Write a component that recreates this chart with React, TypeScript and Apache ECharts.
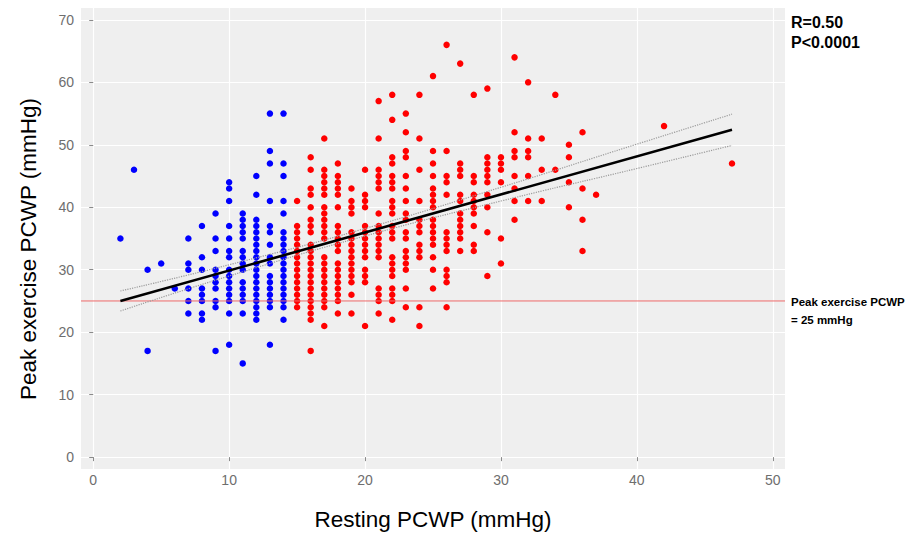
import React, { useEffect, useRef } from "react";
import * as echarts from "echarts";

// Axis ticks and ranges
const xTicks = [0, 10, 20, 30, 40, 50];
const yTicks = [0, 10, 20, 30, 40, 50, 60, 70];
const xRange = [-0.9, 50.9];
const yRange = [-1.9, 71.9];

// Blue group (resting PCWP <= 14): resting value and the peak exercise values observed at it
const blueRest = [2, 3, 4, 5, 6, 7, 8, 9, 10, 11, 12, 13, 14];
const bluePeak: number[][] = [
  [35],
  [46],
  [30, 17],
  [31],
  [27],
  [35, 31, 30, 27, 25, 23],
  [37, 32, 30, 27, 26, 25, 23, 22],
  [39, 35, 33, 30, 29, 28, 27, 25, 24, 17],
  [44, 43, 41, 37, 35, 33, 32, 30, 29, 28, 27, 26, 25, 23, 18],
  [39, 38, 37, 36, 35, 33, 32, 31, 30, 28, 27, 26, 25, 23, 15],
  [45, 42, 38, 37, 36, 35, 34, 33, 32, 31, 30, 29, 28, 27, 26, 25, 24, 23, 22],
  [55, 49, 47, 41, 37, 36, 34, 32, 31, 29, 28, 27, 26, 25, 24, 18],
  [55, 47, 45, 41, 39, 36, 35, 34, 33, 32, 31, 30, 29, 28, 27, 26, 25, 24, 22],
];

// Red group (resting PCWP >= 15)
const redRest = [15, 16, 17, 18, 19, 20, 21, 22, 23, 24, 25, 26, 27, 28, 29, 30, 31, 32, 33, 34, 35, 36, 37, 42, 47];
const redPeak: number[][] = [
  [41, 37, 36, 35, 34, 33, 32, 31, 30, 29, 28, 27, 26, 25, 24],
  [48, 46, 43, 42, 40, 38, 37, 36, 34, 33, 32, 31, 30, 29, 28, 27, 26, 25, 24, 23, 22, 17],
  [51, 46, 45, 44, 43, 42, 40, 39, 38, 37, 36, 35, 32, 31, 30, 29, 28, 27, 26, 25, 24, 21],
  [47, 45, 44, 43, 42, 40, 37, 36, 35, 34, 33, 31, 30, 29, 28, 27, 26, 25, 23],
  [43, 41, 40, 39, 36, 35, 34, 33, 32, 31, 30, 29, 28, 26, 23],
  [46, 42, 41, 40, 37, 36, 35, 34, 33, 32, 30, 29, 28, 21],
  [57, 51, 46, 45, 44, 43, 39, 37, 36, 35, 34, 33, 32, 27, 26, 25, 23],
  [58, 54, 48, 47, 45, 44, 43, 41, 40, 39, 37, 36, 35, 32, 31, 30, 29, 27, 26, 25, 22],
  [55, 52, 49, 48, 45, 43, 41, 39, 38, 36, 35, 33, 32, 31, 30, 27, 24],
  [58, 51, 46, 41, 38, 37, 36, 34, 33, 32, 24, 21],
  [61, 49, 47, 45, 43, 42, 41, 40, 38, 37, 36, 35, 34, 32, 30, 27],
  [66, 49, 45, 44, 42, 36, 35, 34, 33, 30, 29, 28, 24],
  [63, 47, 46, 45, 42, 41, 39, 38, 37, 36, 35, 33],
  [58, 45, 44, 42, 41, 40, 39, 37, 34, 33],
  [59, 48, 47, 46, 45, 44, 42, 40, 36, 29],
  [48, 47, 46, 44, 35, 31],
  [64, 52, 49, 48, 45, 43, 41, 38],
  [60, 51, 49, 48, 45, 41],
  [51, 46, 41],
  [58, 46],
  [50, 48, 44, 40],
  [52, 43, 38, 33],
  [42],
  [53],
  [47],
];

// Regression line and its confidence band
const fitX = [2, 47];
const fitY = [25.0, 52.4];
const ciX = [2, 10, 20, 30, 40, 47];
const ciUpper = [26.6, 30.8, 36.6, 43.2, 50.1, 54.9];
const ciLower = [23.4, 29.0, 35.4, 41.0, 46.2, 49.9];

// Reference line: peak exercise PCWP = 25 mmHg
const threshold = 25;

const FONT = "'Liberation Sans', Arial, Helvetica, sans-serif";

function toPoints(xs: number[], ys: number[][]): number[][] {
  const out: number[][] = [];
  xs.forEach((x, i) => ys[i].forEach((y) => out.push([x, y])));
  return out;
}

export default function App() {
  const ref = useRef<HTMLDivElement>(null);

  useEffect(() => {
    if (!ref.current) return;
    const chart = echarts.init(ref.current, null, { renderer: "svg" });

    const axisLabelStyle = { color: "#6e6e6e", fontSize: 14, fontFamily: FONT };

    chart.setOption({
      animation: false,
      grid: {
        left: 81,
        right: 130,
        top: 8,
        bottom: 64,
        show: true,
        backgroundColor: "#efefef",
        borderWidth: 0,
      },
      xAxis: {
        type: "value",
        min: xRange[0],
        max: xRange[1],
        axisLine: { show: false },
        axisTick: { show: true, length: 4, customValues: xTicks, lineStyle: { color: "#8a8a8a" } },
        axisLabel: { ...axisLabelStyle, margin: 4, customValues: xTicks },
        splitLine: { show: true, lineStyle: { color: "#ffffff", width: 1.2 } },
      },
      yAxis: {
        type: "value",
        min: yRange[0],
        max: yRange[1],
        axisLine: { show: false },
        axisTick: { show: true, length: 4, customValues: yTicks, lineStyle: { color: "#8a8a8a" } },
        axisLabel: { ...axisLabelStyle, margin: 7, customValues: yTicks },
        splitLine: { show: true, lineStyle: { color: "#ffffff", width: 1.2 } },
      },
      series: [
        {
          type: "scatter",
          data: toPoints(blueRest, bluePeak),
          symbolSize: 6.5,
          itemStyle: { color: "#0000ff", opacity: 1 },
          z: 2,
        },
        {
          type: "scatter",
          data: toPoints(redRest, redPeak),
          symbolSize: 6.5,
          itemStyle: { color: "#ff0000", opacity: 1 },
          z: 2,
        },
        {
          type: "line",
          data: xRange.map((x) => [x, threshold]),
          showSymbol: false,
          silent: true,
          itemStyle: { color: "#ee6a6a" },
          lineStyle: { color: "#ee6a6a", width: 1 },
          z: 3,
        },
        {
          type: "line",
          data: ciX.map((x, i) => [x, ciUpper[i]]),
          showSymbol: false,
          smooth: true,
          itemStyle: { color: "#9a9a9a" },
          lineStyle: { color: "#9a9a9a", width: 1.2, type: "dotted" },
          z: 4,
        },
        {
          type: "line",
          data: ciX.map((x, i) => [x, ciLower[i]]),
          showSymbol: false,
          smooth: true,
          itemStyle: { color: "#9a9a9a" },
          lineStyle: { color: "#9a9a9a", width: 1.2, type: "dotted" },
          z: 4,
        },
        {
          type: "line",
          data: fitX.map((x, i) => [x, fitY[i]]),
          showSymbol: false,
          itemStyle: { color: "#000000" },
          lineStyle: { color: "#000000", width: 2.6 },
          z: 5,
        },
      ],
      graphic: [
        {
          type: "text",
          x: 28,
          y: 249,
          rotation: Math.PI / 2,
          style: {
            text: "Peak exercise PCWP (mmHg)",
            font: `22.5px ${FONT}`,
            fill: "#000",
            align: "center",
            verticalAlign: "middle",
          },
        },
        {
          type: "text",
          x: 433,
          y: 519,
          style: {
            text: "Resting PCWP (mmHg)",
            font: `22.5px ${FONT}`,
            fill: "#000",
            align: "center",
            verticalAlign: "middle",
          },
        },
        {
          type: "text",
          x: 791,
          y: 22,
          style: { text: "R=0.50", font: `bold 16px ${FONT}`, fill: "#000", align: "left", verticalAlign: "middle" },
        },
        {
          type: "text",
          x: 791,
          y: 42,
          style: { text: "P<0.0001", font: `bold 16px ${FONT}`, fill: "#000", align: "left", verticalAlign: "middle" },
        },
        {
          type: "text",
          x: 791,
          y: 302,
          style: {
            text: "Peak exercise PCWP",
            font: `bold 11.5px ${FONT}`,
            fill: "#000",
            align: "left",
            verticalAlign: "middle",
          },
        },
        {
          type: "text",
          x: 791,
          y: 320,
          style: { text: "= 25 mmHg", font: `bold 11.5px ${FONT}`, fill: "#000", align: "left", verticalAlign: "middle" },
        },
      ],
    });

    return () => chart.dispose();
  }, []);

  return <div ref={ref} style={{ width: 915, height: 533, position: "absolute", left: 0, top: 0 }} />;
}
